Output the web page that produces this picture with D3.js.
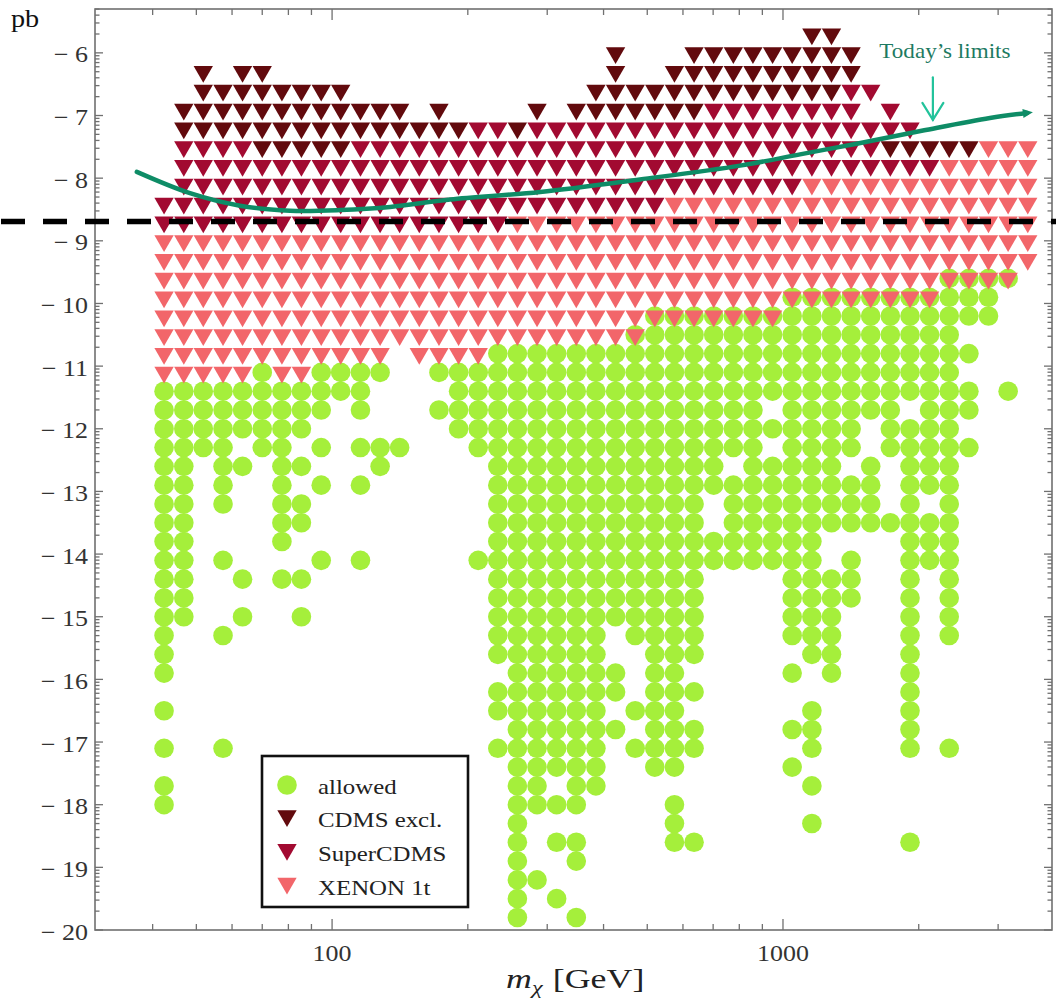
<!DOCTYPE html>
<html>
<head>
<meta charset="utf-8">
<script src="https://cdn.jsdelivr.net/npm/d3@7"></script>
<style>
  body { margin: 0; background: #fff; }
  svg { display: block; }
</style>
</head>
<body>
<svg id="chart" width="1056" height="1005"></svg>
<script>
// Scan grid: neutralino mass per column (GeV)
const massGeV = [42.4, 46.9, 51.8, 57.3, 63.3, 70.0, 77.4, 85.5, 94.6, 104.5,
  115.6, 127.8, 141.2, 156.1, 172.6, 190.8, 210.9, 233.1, 257.6, 284.8,
  314.8, 348.0, 384.7, 425.3, 470.1, 519.6, 574.5, 635.0, 702.0, 776.1,
  857.8, 948.2, 1048, 1159, 1281, 1416, 1565, 1730, 1913, 2114,
  2337, 2584, 2856, 3157, 3490];

// Scan grid: log10 of the spin-independent cross section (pb), top row first
const logSigma = [-5.7, -6.0, -6.3, -6.6, -6.9, -7.2, -7.5, -7.8, -8.1, -8.4,
  -8.7, -9.0, -9.3, -9.6, -9.9, -10.2, -10.5, -10.8, -11.1, -11.4,
  -11.7, -12.0, -12.3, -12.6, -12.9, -13.2, -13.5, -13.8, -14.1, -14.4,
  -14.7, -15.0, -15.3, -15.6, -15.9, -16.2, -16.5, -16.8, -17.1, -17.4,
  -17.7, -18.0, -18.3, -18.6, -18.9, -19.2, -19.5, -19.8];

// Status of each grid cell, one run-length string per mass column (top to bottom).
// . none, o allowed, c CDMS excl., s SuperCDMS, x XENON 1t, X XENON 1t over an allowed point
const columnRuns = [
  "9. 2s 8x 16o 1. 1o 1. 1o 1. 2o 6.",
  "4. 2c 5s 8x 13o 16.",
  "2. 4c 5s 8x 4o 25.",
  "3. 3c 5s 8x 7o 2. 1o 3. 1o 5. 1o 9.",
  "2. 4c 5s 8x 3o 1. 1o 5. 1o 1. 1o 16.",
  "2. 5c 4s 7x 5o 25.",
  "3. 4c 4s 8x 9o 1. 1o 18.",
  "3. 4c 4s 8x 3o 1. 1o 1. 2o 2. 1o 1. 1o 16.",
  "3. 4c 4s 7x 3o 1. 1o 1. 1o 3. 1o 19.",
  "3. 4c 4s 7x 2o 28.",
  "4. 2c 5s 7x 3o 1. 1o 1. 1o 3. 1o 19.",
  "4. 2c 5s 7x 1o 3. 2o 24.",
  "4. 2c 5s 6x 5. 1o 25.",
  "5. 1c 5s 7x 30.",
  "4. 2c 5s 7x 1o 1. 1o 27.",
  "5. 1c 5s 7x 4o 26.",
  "5. 6s 7x 5o 5. 1o 19.",
  "5. 6s 6x 17o 1. 2o 1. 1o 9.",
  "5. 1c 4s 7x 31o",
  "4. 1c 5s 7x 25o 3. 1o 2.",
  "5. 5s 7x 23o 1. 1o 1. 1o 2. 1o 1.",
  "4. 1c 5s 7x 25o 1. 2o 2. 1o",
  "3. 2c 5s 7x 24o 7.",
  "1. 4c 5s 7x 15o 2. 2o 1. 1o 10.",
  "3. 2c 5s 6x 1X 16o 3. 1o 1. 1o 9.",
  "3. 2c 5s 5x 1X 24o 8.",
  "2. 3c 4s 6x 1X 24o 1. 3o 4.",
  "1. 4c 4s 6x 1X 18o 1. 1o 1. 2o 4. 1o 4.",
  "1. 3c 5s 6x 1X 9o 2. 2o 19.",
  "1. 3c 5s 6x 1X 7o 1. 5o 19.",
  "1. 3c 5s 6x 1X 13o 19.",
  "1. 3c 5s 6x 1X 4o 1. 1o 1. 6o 19.",
  "1. 3c 5s 5x 1X 18o 1. 1o 2. 1o 1. 1o 8.",
  "4c 4s 6x 1X 19o 2. 3o 1. 1o 1. 1o 5.",
  "4c 4s 6x 1X 12o 2. 6o 13.",
  "1. 2c 5s 6x 1X 8o 1. 3o 1. 3o 17.",
  "3. 1s 1. 3s 6x 1X 6o 2. 4o 21.",
  "4. 2s 1c 1s 6x 1X 8o 3. 1o 21.",
  "5. 1s 1c 1s 6x 1X 5o 1. 18o 4. 1o 4.",
  "6. 1c 1s 6x 1X 10o 1. 3o 19.",
  "6. 1c 6x 1X 19o 5. 1o 9.",
  "6. 1c 6x 1X 2o 1. 1o 1. 2o 1. 1o 25.",
  "6. 7x 1X 2o 32.",
  "6. 7x 1X 5. 1o 28.",
  "6. 7x 35."
];

const seriesNames = ["allowed", "CDMS excl.", "SuperCDMS", "XENON 1t"];
const cellSeries = { o: [0], c: [1], s: [2], x: [3], X: [0, 3] };

// Present-day exclusion curve
const curveMass = [36.9, 48.4, 62.5, 80.7, 104.2, 134.5, 182.6, 289.3, 481.8, 803, 1091, 1457, 2044, 2877, 3475];
const curveLogSigma = [-7.90, -8.24, -8.44, -8.52, -8.51, -8.46, -8.34, -8.22, -8.02, -7.80, -7.62, -7.45, -7.24, -7.04, -6.96];

// Projected reach (dashed)
const projectedLogSigma = -8.69;

const xMajorTicks = [100, 1000];
const xMinorTicks = [40, 50, 60, 70, 80, 90, 200, 300, 400, 500, 600, 700, 800, 900, 2000, 3000];
const yMajorTicks = [-20, -19, -18, -17, -16, -15, -14, -13, -12, -11, -10, -9, -8, -7, -6];
const yMinorFactors = [2, 3, 4, 5, 6, 7, 8, 9];

// ---------- styles ----------
const colors = ["#a5ef3b", "#620a0d", "#a20a31", "#f2666a"];
const serif = "'Liberation Serif', 'DejaVu Serif', serif";
const stretch = 1.13;           // horizontal text stretch
const W = 1056, H = 1005;
const frame = { left: 95, right: 1052, top: 9, bottom: 930 };

const x = d3.scaleLog().domain([29.8, 3950]).range([frame.left, frame.right]);
const y = d3.scaleLinear().domain([-20, -5.3]).range([frame.bottom, frame.top]);

const svg = d3.select("#chart");
svg.append("rect").attr("width", W).attr("height", H).attr("fill", "#fff");

function addText(g, px, py, str, size, opts = {}) {
  const t = g.append("text")
    .attr("transform", `translate(${px},${py}) scale(${opts.sx || stretch},1)`)
    .attr("font-family", serif)
    .attr("font-size", size)
    .attr("fill", opts.fill || "#222")
    .attr("text-anchor", opts.anchor || "start")
    .text(str);
  if (opts.italic) t.attr("font-style", "italic");
  return t;
}

// ---------- decode grid ----------
const points = [];
columnRuns.forEach((runs, i) => {
  const codes = [];
  runs.trim().split(/\s+/).forEach(tok => {
    const n = parseInt(tok, 10);
    const ch = tok.replace(/^\d+/, "");
    for (let k = 0; k < n; k++) codes.push(ch);
  });
  codes.forEach((ch, j) => {
    (cellSeries[ch] || []).forEach(s => {
      points.push({ m: massGeV[i], ls: logSigma[j], series: s });
    });
  });
});

// ---------- markers ----------
const markG = svg.append("g");
markG.selectAll("circle.allowed")
  .data(points.filter(p => p.series === 0))
  .join("circle")
  .attr("class", "allowed")
  .attr("cx", d => x(d.m))
  .attr("cy", d => y(d.ls))
  .attr("r", 9.8)
  .attr("fill", colors[0]);

const tri = d3.symbol().type(d3.symbolTriangle).size(162);
markG.selectAll("path.excl")
  .data(points.filter(p => p.series > 0))
  .join("path")
  .attr("class", "excl")
  .attr("d", tri)
  .attr("transform", d => `translate(${x(d.m)},${y(d.ls)}) rotate(180)`)
  .attr("fill", d => colors[d.series]);

// ---------- frame and ticks ----------
const axisColor = "#707070";
const tickG = svg.append("g").attr("stroke", axisColor).attr("stroke-width", 1.3);

function xTicks(vals, len) {
  tickG.selectAll(null).data(vals).join("line")
    .attr("x1", d => x(d)).attr("x2", d => x(d))
    .attr("y1", frame.bottom).attr("y2", frame.bottom - len);
  tickG.selectAll(null).data(vals).join("line")
    .attr("x1", d => x(d)).attr("x2", d => x(d))
    .attr("y1", frame.top).attr("y2", frame.top + len);
}
function yTicks(vals, len) {
  tickG.selectAll(null).data(vals).join("line")
    .attr("x1", frame.left).attr("x2", frame.left + len)
    .attr("y1", d => y(d)).attr("y2", d => y(d));
  tickG.selectAll(null).data(vals).join("line")
    .attr("x1", frame.right).attr("x2", frame.right - len)
    .attr("y1", d => y(d)).attr("y2", d => y(d));
}
xTicks(xMajorTicks, 11);
xTicks(xMinorTicks, 6);
yTicks(yMajorTicks, 8);
const yMinor = [];
yMajorTicks.forEach(n => yMinorFactors.forEach(k => {
  const v = n + Math.log10(k);
  if (v < y.domain()[1] && v > y.domain()[0]) yMinor.push(v);
}));
yTicks(yMinor, 4.5);

svg.append("rect")
  .attr("x", frame.left).attr("y", frame.top)
  .attr("width", frame.right - frame.left).attr("height", frame.bottom - frame.top)
  .attr("fill", "none").attr("stroke", axisColor).attr("stroke-width", 1.6);

// tick labels
const labelG = svg.append("g");
yMajorTicks.forEach(v => {
  addText(labelG, 88, y(v) + 9.5, "\u2212 " + Math.abs(v), 23, { anchor: "end", fill: "#333" });
});
xMajorTicks.forEach(v => {
  addText(labelG, x(v), 961, String(v), 23, { anchor: "middle", fill: "#333" });
});

// axis titles
addText(labelG, 11, 27, "pb", 25, { fill: "#111" });
const xt = labelG.append("text")
  .attr("transform", `translate(506,988) scale(1.28,1)`)
  .attr("font-family", serif).attr("font-size", 28).attr("fill", "#222");
xt.append("tspan").attr("font-style", "italic").text("m");
xt.append("tspan").attr("font-style", "italic").attr("font-size", 19).attr("dy", 6).text("\u03c7");
xt.append("tspan").attr("dy", -6).attr("dx", 8).text("[GeV]");

// ---------- projected reach (dashed) ----------
svg.append("line")
  .attr("x1", 1).attr("x2", W)
  .attr("y1", y(projectedLogSigma)).attr("y2", y(projectedLogSigma))
  .attr("stroke", "#000").attr("stroke-width", 5.5)
  .attr("stroke-dasharray", "24 18");

// ---------- today's limits curve ----------
const curveColor = "#0e8c66";
const defs = svg.append("defs");
defs.append("marker")
  .attr("id", "curveHead")
  .attr("viewBox", "0 -5 10 10")
  .attr("refX", 4).attr("refY", 0)
  .attr("markerUnits", "userSpaceOnUse")
  .attr("markerWidth", 11).attr("markerHeight", 10)
  .attr("orient", "auto")
  .append("path").attr("d", "M0,-4.5L10,0L0,4.5Z").attr("fill", curveColor);

const curveData = curveMass.map((m, i) => ({ m, ls: curveLogSigma[i] }));
svg.append("path")
  .datum(curveData)
  .attr("d", d3.line().x(d => x(d.m)).y(d => y(d.ls)).curve(d3.curveCatmullRom.alpha(0.5)))
  .attr("fill", "none")
  .attr("stroke", curveColor)
  .attr("stroke-width", 4.5)
  .attr("stroke-linecap", "round")
  .attr("marker-end", "url(#curveHead)");

// annotation
const annMass = 2150;
const ax = x(annMass);
const ay0 = y(-6.39), ay1 = y(-7.07);
const annG = svg.append("g").attr("stroke", "#22c39b").attr("stroke-width", 2.2).attr("fill", "none")
  .attr("stroke-linecap", "round");
annG.append("line").attr("x1", ax).attr("x2", ax).attr("y1", ay0).attr("y2", ay1);
annG.append("path").attr("d", `M${ax - 10.5},${ay1 - 17}L${ax},${ay1}L${ax + 10.5},${ay1 - 17}`);
addText(svg, ax + 12, 58, "Today\u2019s limits", 21, { anchor: "middle", fill: "#1d7a61", sx: 1.1 });

// ---------- legend ----------
const lg = svg.append("g");
lg.append("rect").attr("x", 262).attr("y", 756).attr("width", 206).attr("height", 151)
  .attr("fill", "#fff").attr("stroke", "#111").attr("stroke-width", 2.6);
seriesNames.forEach((name, i) => {
  const cy = 785 + 33.7 * i;
  if (i === 0) {
    lg.append("circle").attr("cx", 287).attr("cy", cy).attr("r", 9.8).attr("fill", colors[0]);
  } else {
    lg.append("path").attr("d", tri)
      .attr("transform", `translate(287,${cy - 2.8}) rotate(180)`)
      .attr("fill", colors[i]);
  }
  addText(lg, 318, cy + 8.5, name, 22, { fill: "#222" });
});
</script>
</body>
</html>
